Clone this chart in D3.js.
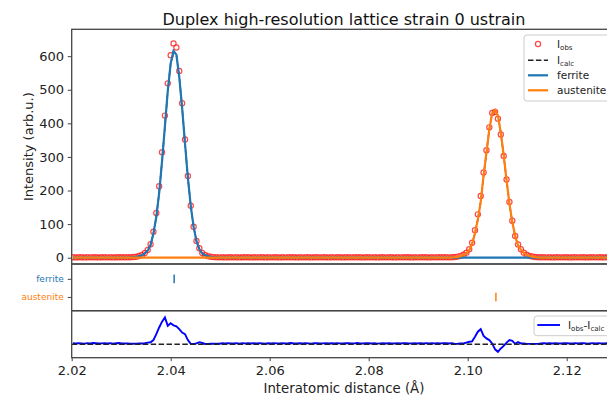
<!DOCTYPE html>
<html>
<head>
<meta charset="utf-8">
<script src="https://cdn.jsdelivr.net/npm/d3@7"></script>
<style>
	body { margin: 0; background: #fff; }
	svg { display: block; font-family: "DejaVu Sans", sans-serif; }
</style>
</head>
<body>
<div id="chart"></div>
<script>
// d-spacing of every measured point (Å)
const dValues = [
	2.02027, 2.02085, 2.02143, 2.02201, 2.02259, 2.02317, 2.02375, 2.02433, 2.02491, 2.02549,
	2.02607, 2.02665, 2.02723, 2.02781, 2.02839, 2.02897, 2.02955, 2.03013, 2.03071, 2.03129,
	2.03187, 2.03245, 2.03303, 2.03361, 2.03419, 2.03477, 2.03535, 2.03593, 2.03651, 2.03709,
	2.03767, 2.03825, 2.03883, 2.03941, 2.03999, 2.04057, 2.04115, 2.04173, 2.04231, 2.04289,
	2.04347, 2.04405, 2.04463, 2.04521, 2.04579, 2.04637, 2.04695, 2.04753, 2.04811, 2.04869,
	2.04927, 2.04985, 2.05043, 2.05101, 2.05159, 2.05217, 2.05275, 2.05333, 2.05391, 2.05449,
	2.05507, 2.05565, 2.05623, 2.05681, 2.05739, 2.05797, 2.05855, 2.05913, 2.05971, 2.06029,
	2.06087, 2.06145, 2.06203, 2.06261, 2.06319, 2.06377, 2.06435, 2.06493, 2.06551, 2.06609,
	2.06667, 2.06725, 2.06783, 2.06841, 2.06899, 2.06957, 2.07015, 2.07073, 2.07131, 2.07189,
	2.07247, 2.07305, 2.07363, 2.07421, 2.07479, 2.07537, 2.07595, 2.07653, 2.07711, 2.07769,
	2.07827, 2.07885, 2.07943, 2.08001, 2.08059, 2.08117, 2.08175, 2.08233, 2.08291, 2.08349,
	2.08407, 2.08465, 2.08523, 2.08581, 2.08639, 2.08697, 2.08755, 2.08813, 2.08871, 2.08929,
	2.08987, 2.09045, 2.09103, 2.09161, 2.09219, 2.09277, 2.09335, 2.09393, 2.09451, 2.09509,
	2.09567, 2.09625, 2.09683, 2.09741, 2.09799, 2.09857, 2.09915, 2.09973, 2.10031, 2.10089,
	2.10147, 2.10205, 2.10263, 2.10321, 2.10379, 2.10437, 2.10495, 2.10553, 2.10611, 2.10669,
	2.10727, 2.10785, 2.10843, 2.10901, 2.10959, 2.11017, 2.11075, 2.11133, 2.11191, 2.11249,
	2.11307, 2.11365, 2.11423, 2.11481, 2.11539, 2.11597, 2.11655, 2.11713, 2.11771, 2.11829,
	2.11887, 2.11945, 2.12003, 2.12061, 2.12119, 2.12177, 2.12235, 2.12293, 2.12351, 2.12409,
	2.12467, 2.12525, 2.12583, 2.12641, 2.12699, 2.12757, 2.12815, 2.12873, 2.12931, 2.12989
];

// observed intensity at each point
const iObs = [
	1.2, 0.9, 1.4, 1.1, 0.8, 1.3, 1.0, 1.5, 1.2, 0.9, 1.1, 1.4, 1.0, 1.3, 0.8, 1.2, 1.5, 1.1, 1.3, 1.4,
	1.5, 2.0, 3.0, 5.0, 8.0, 14, 23, 40, 77, 133, 213, 314, 423, 519, 603, 638, 626, 556, 460, 352,
	243, 155, 92, 50, 28, 14, 8.0, 4.5, 3.0, 1.8,
	1.3, 1.0, 1.2, 0.9, 1.4, 1.1, 1.0, 1.3, 0.8, 1.2,
	1.1, 1.4, 0.9, 1.2, 1.0, 1.3, 1.1, 0.8, 1.2, 1.0,
	1.4, 1.1, 0.9, 1.3, 1.0, 1.2, 1.5, 1.1, 0.9, 1.2,
	1.0, 1.3, 1.1, 0.8, 1.2, 1.4, 1.0, 1.1, 1.3, 0.9,
	1.2, 1.0, 1.4, 1.1, 0.9, 1.3, 1.2, 1.0, 1.1, 1.5,
	1.1, 0.9, 1.2, 1.3, 1.0, 1.2, 0.8, 1.1, 1.4, 1.0,
	1.2, 1.1, 0.9, 1.3, 1.0, 1.2, 1.4, 1.1, 0.9, 1.2,
	1.0, 1.3, 1.1, 1.2, 0.9, 1.4, 1.0, 1.2, 1.1, 1.3,
	1.2, 1.0, 1.4,
	2.0, 3.2, 5.5, 9.0, 15, 25, 44.5, 82, 129, 184, 254, 320, 388, 431, 434, 414, 367, 303, 233, 166,
	110, 64.5, 39.5, 25, 15, 9.0, 5.5, 3.5, 2.0, 1.3,
	1.1, 1.3, 1.0, 1.2, 0.9, 1.4, 1.1, 1.0, 1.3, 1.2,
	0.9, 1.1, 1.4, 1.0, 1.2, 1.3, 0.8, 1.1, 1.2, 1.0,
	1.3, 1.1, 0.9, 1.2, 1.4, 1.0, 1.1
];

// calculated phase contributions (zero outside these windows), first index into dValues
const ferriteStart = 17;
const ferriteCalc = [
	0, 0.3, 0.5, 0.8, 1.3, 2.2, 4, 7, 12.8, 21, 37.6, 72, 121, 193, 287, 391, 497, 578,
	615.5, 604.5, 538, 446, 340, 238, 154.5, 91.7, 49, 25.5, 12.5, 7.7, 4, 2.2, 1.2, 0.6, 0.3, 0
];
const austeniteStart = 132;
const austeniteCalc = [
	0, 1.5, 2.5, 4.5, 8, 13, 22, 41, 73, 114, 166, 244, 313, 383, 430, 440,
	423, 372, 305, 231, 161, 106, 64, 37, 24, 14, 8.5, 5, 3, 1.5, 0.8, 0
];

const phases = ['ferrite', 'austenite'];
const reflections = [2.0407, 2.1057];
const xTicks = [2.02, 2.04, 2.06, 2.08, 2.10, 2.12];
const yTicks = [0, 100, 200, 300, 400, 500, 600];

const colors = { ferrite: '#1f77b4', austenite: '#ff7f0e' };

// build the table
const rows = dValues.map((d, k) => {
	const f = ferriteCalc[k - ferriteStart] || 0;
	const a = austeniteCalc[k - austeniteStart] || 0;
	return { d, obs: iObs[k], calc: f + a, diff: iObs[k] - f - a };
});
function phaseCurve(start, vals) {
	const pts = [{ d: dValues[0], v: 0 }];
	vals.forEach((v, i) => pts.push({ d: dValues[start + i], v }));
	pts.push({ d: dValues[dValues.length - 1], v: 0 });
	return pts;
}
const curves = { ferrite: phaseCurve(ferriteStart, ferriteCalc), austenite: phaseCurve(austeniteStart, austeniteCalc) };

// 1. layout
const W = 607, H = 397;
const left = 71.7, right = 616.2;
const mainTop = 29.3, mainBot = 264, tickBot = 310.7, resBot = 357.7;
const spine = '#444';

const svg = d3.select('#chart').append('svg').attr('width', W).attr('height', H);

const x = d3.scaleLinear().domain([2.02, 2.13]).range([left, right]);
const y = d3.scaleLinear().domain([-18.8, 680]).range([mainBot, mainTop]);
const yTick = d3.scaleLinear().domain([-0.82, 1.76]).range([mainBot, tickBot]);
const yRes = d3.scaleLinear().domain([-16, 40]).range([resBot, tickBot]);

const defs = svg.append('defs');
[['clip-main', mainTop, mainBot], ['clip-tick', mainBot, tickBot], ['clip-res', tickBot, resBot]].forEach(([id, t, b]) => {
	defs.append('clipPath').attr('id', id).append('rect')
		.attr('x', left).attr('y', t).attr('width', right - left).attr('height', b - t);
});

// 2. main panel
const main = svg.append('g').attr('clip-path', 'url(#clip-main)');
main.selectAll('circle.obs').data(rows).join('circle')
	.attr('class', 'obs')
	.attr('cx', d => x(d.d)).attr('cy', d => y(d.obs)).attr('r', 2.6)
	.attr('fill', 'none').attr('stroke', '#ff1a1a').attr('stroke-opacity', 0.8).attr('stroke-width', 1.2);

main.append('path').datum(rows)
	.attr('fill', 'none').attr('stroke', '#222').attr('stroke-width', 1.5).attr('stroke-dasharray', '5.5,2.4')
	.attr('d', d3.line().x(d => x(d.d)).y(d => y(d.calc)));

phases.forEach(p => {
	main.append('path').datum(curves[p])
		.attr('fill', 'none').attr('stroke', colors[p]).attr('stroke-width', 2.2)
		.attr('d', d3.line().x(d => x(d.d)).y(d => y(d.v)));
});

svg.append('g').attr('transform', `translate(${left},0)`)
	.call(d3.axisLeft(y).tickValues(yTicks).tickSize(4).tickPadding(3.7))
	.call(g => g.select('.domain').remove())
	.call(g => g.selectAll('line').attr('stroke', spine))
	.call(g => g.selectAll('text').attr('font-size', 13).attr('fill', '#222').attr('font-family', 'DejaVu Sans'));

// 3. reflection ticks panel
const tp = svg.append('g').attr('clip-path', 'url(#clip-tick)');
phases.forEach((p, i) => {
	tp.append('line')
		.attr('x1', x(reflections[i])).attr('x2', x(reflections[i]))
		.attr('y1', yTick(i) - 4.3).attr('y2', yTick(i) + 4.3)
		.attr('stroke', colors[p]).attr('stroke-width', 1.5);
});
svg.append('g').attr('transform', `translate(${left},0)`)
	.call(d3.axisLeft(yTick).tickValues([0, 1]).tickFormat(i => phases[i]).tickSize(4).tickPadding(4))
	.call(g => g.select('.domain').remove())
	.call(g => g.selectAll('line').attr('stroke', spine))
	.call(g => g.selectAll('text').attr('font-size', 9).attr('font-family', 'DejaVu Sans').attr('fill', i => colors[phases[i]]));

// 4. residual panel
const rp = svg.append('g').attr('clip-path', 'url(#clip-res)');
rp.append('path').datum(rows)
	.attr('fill', 'none').attr('stroke', '#0000ff').attr('stroke-width', 1.9)
	.attr('d', d3.line().x(d => x(d.d)).y(d => yRes(d.diff)));
rp.append('line')
	.attr('x1', left).attr('x2', right).attr('y1', yRes(0)).attr('y2', yRes(0))
	.attr('stroke', '#222').attr('stroke-width', 1.5).attr('stroke-dasharray', '5.5,2.4');

svg.append('g').attr('transform', `translate(0,${resBot})`)
	.call(d3.axisBottom(x).tickValues(xTicks).tickFormat(d3.format('.2f')).tickSize(3.5).tickPadding(5))
	.call(g => g.select('.domain').remove())
	.call(g => g.selectAll('line').attr('stroke', spine))
	.call(g => g.selectAll('text').attr('font-size', 13).attr('fill', '#222').attr('font-family', 'DejaVu Sans'));

// 5. panel frames
[[mainTop, mainBot], [mainBot, tickBot], [tickBot, resBot]].forEach(([t, b]) => {
	svg.append('rect').attr('x', left).attr('y', t).attr('width', right - left).attr('height', b - t)
		.attr('fill', 'none').attr('stroke', spine).attr('stroke-width', 1.3);
});

// 6. legends
const lg = svg.append('g');
lg.append('rect').attr('x', 524).attr('y', 35).attr('width', 88).attr('height', 66).attr('rx', 3)
	.attr('fill', '#fff').attr('fill-opacity', 0.8).attr('stroke', '#ccc');
const rowsY = [44, 60.3, 75.3, 90.3];
lg.append('circle').attr('cx', 538).attr('cy', rowsY[0]).attr('r', 2.6)
	.attr('fill', 'none').attr('stroke', '#ff1a1a').attr('stroke-opacity', 0.8).attr('stroke-width', 1.2);
lg.append('line').attr('x1', 528).attr('x2', 548).attr('y1', rowsY[1]).attr('y2', rowsY[1])
	.attr('stroke', '#222').attr('stroke-width', 1.5).attr('stroke-dasharray', '5.5,2.4');
phases.forEach((p, i) => {
	lg.append('line').attr('x1', 528).attr('x2', 548).attr('y1', rowsY[2 + i]).attr('y2', rowsY[2 + i])
		.attr('stroke', colors[p]).attr('stroke-width', 2.2);
});
const lt = (yy) => lg.append('text').attr('x', 557).attr('y', yy + 3.6).attr('font-size', 10.5).attr('fill', '#222');
const sub = (t, main, s) => {
	t.append('tspan').text(main);
	t.append('tspan').text(s).attr('font-size', 7).attr('dy', 2.5);
};
sub(lt(rowsY[0]), 'I', 'obs');
sub(lt(rowsY[1]), 'I', 'calc');
lt(rowsY[2]).text('ferrite');
lt(rowsY[3]).text('austenite');

const lr = svg.append('g');
lr.append('rect').attr('x', 534).attr('y', 316).attr('width', 78).attr('height', 19.7).attr('rx', 3)
	.attr('fill', '#fff').attr('fill-opacity', 0.8).attr('stroke', '#ccc');
lr.append('line').attr('x1', 537.3).attr('x2', 560).attr('y1', 325).attr('y2', 325)
	.attr('stroke', '#0000ff').attr('stroke-width', 1.9);
const rt = lr.append('text').attr('x', 568).attr('y', 328.6).attr('font-size', 10.5).attr('fill', '#222');
rt.append('tspan').text('I');
rt.append('tspan').text('obs').attr('font-size', 7).attr('dy', 2.5);
rt.append('tspan').text('-I').attr('dy', -2.5);
rt.append('tspan').text('calc').attr('font-size', 7).attr('dy', 2.5);

// 7. titles
svg.append('text').attr('x', (left + right) / 2).attr('y', 24.5).attr('text-anchor', 'middle')
	.attr('font-size', 16).attr('fill', '#111').text('Duplex high-resolution lattice strain 0 ustrain');
svg.append('text').attr('transform', `translate(33.3,${(mainTop + mainBot) / 2}) rotate(-90)`)
	.attr('text-anchor', 'middle').attr('font-size', 13).attr('fill', '#222').text('Intensity (arb.u.)');
svg.append('text').attr('x', (left + right) / 2).attr('y', 392.5).attr('text-anchor', 'middle')
	.attr('font-size', 13.3).attr('fill', '#222').text('Interatomic distance (Å)');
</script>
</body>
</html>
